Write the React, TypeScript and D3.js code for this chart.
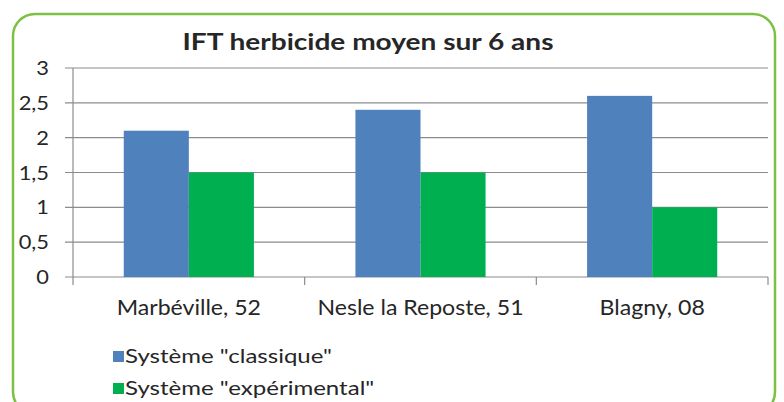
import React, { useEffect, useRef } from "react"
import * as d3 from "d3"

const categories = ["Marbéville, 52", "Nesle la Reposte, 51", "Blagny, 08"]
const series = ['Système "classique"', 'Système "expérimental"']
const classique = [2.1, 2.4, 2.6]
const experimental = [1.5, 1.5, 1.0]
const yTicks = [0, 0.5, 1, 1.5, 2, 2.5, 3]
const title = "IFT herbicide moyen sur 6 ans"

const colors = ["#4F81BD", "#00B050"]
const font = "Lato, Carlito, sans-serif"

export default function App() {
  const ref = useRef<SVGSVGElement>(null)

  useEffect(() => {
    const svg = d3.select(ref.current)
    svg.selectAll("*").remove()

    // le texte de l'original est un peu étiré en largeur
    const label = (g: any, x: number, y: number, txt: string, size: number, sx: number, anchor = "start", weight = "normal") =>
      g.append("text")
        .attr("transform", `translate(${x},${y}) scale(${sx},1)`)
        .attr("text-anchor", anchor)
        .style("font-family", font).style("font-size", size + "px").style("font-weight", weight)
        .attr("fill", "#262626")
        .text(txt)

    // cadre vert arrondi
    svg.append("rect")
      .attr("x", 13).attr("y", 14).attr("width", 762).attr("height", 400)
      .attr("rx", 22).attr("fill", "white")
      .attr("stroke", "#7CC142").attr("stroke-width", 2.5)

    const x = d3.scaleBand().domain(categories).range([73, 768])
    const inner = d3.scaleBand().domain(series).range([0, x.bandwidth()]).paddingOuter(0.78)
    const y = d3.scaleLinear().domain([0, 3]).range([277, 68])

    // grille + graduations
    svg.append("g").selectAll("line").data(yTicks).join("line")
      .attr("x1", 65).attr("x2", 768)
      .attr("y1", d => y(d)).attr("y2", d => y(d))
      .attr("stroke", "#8c8c8c").attr("stroke-width", 1.2)

    const yl = svg.append("g")
    yTicks.forEach(t => label(yl, 49, y(t) + 7, String(t).replace(".", ","), 19, 1.15, "end"))

    // barres
    const data = [classique, experimental]
    const bars = svg.append("g")
    data.forEach((vals, s) => {
      bars.append("g").selectAll("rect").data(vals).join("rect")
        .attr("x", (d, i) => x(categories[i])! + inner(series[s])!)
        .attr("width", inner.bandwidth())
        .attr("y", d => y(d))
        .attr("height", d => y(0) - y(d))
        .attr("fill", colors[s])
    })

    // axe vertical
    svg.append("line")
      .attr("x1", 73).attr("x2", 73).attr("y1", y(3)).attr("y2", y(0))
      .attr("stroke", "#8c8c8c").attr("stroke-width", 1.2)

    // graduations des catégories
    const ticksX = [...categories.map(c => x(c)!), 768]
    svg.append("g").selectAll("line").data(ticksX).join("line")
      .attr("x1", d => d).attr("x2", d => d)
      .attr("y1", y(0)).attr("y2", y(0) + 8)
      .attr("stroke", "#8c8c8c").attr("stroke-width", 1.2)

    const xl = svg.append("g")
    categories.forEach(c => label(xl, x(c)! + x.bandwidth() / 2, 315, c, 21, 1.1, "middle"))

    // titre
    label(svg, 368, 50, title, 23, 1.22, "middle", "bold")

    // légende
    const leg = svg.append("g")
    series.forEach((s, i) => {
      const by = 363 + i * 32
      leg.append("rect").attr("x", 113).attr("y", by - 12).attr("width", 11).attr("height", 11).attr("fill", colors[i])
      label(leg, 125, by, s, 18.5, 1.3)
    })
  }, [])

  return (
    <svg ref={ref} width={784} height={402}
      style={{ position: "absolute", left: 0, top: 0, background: "white" }} />
  )
}
